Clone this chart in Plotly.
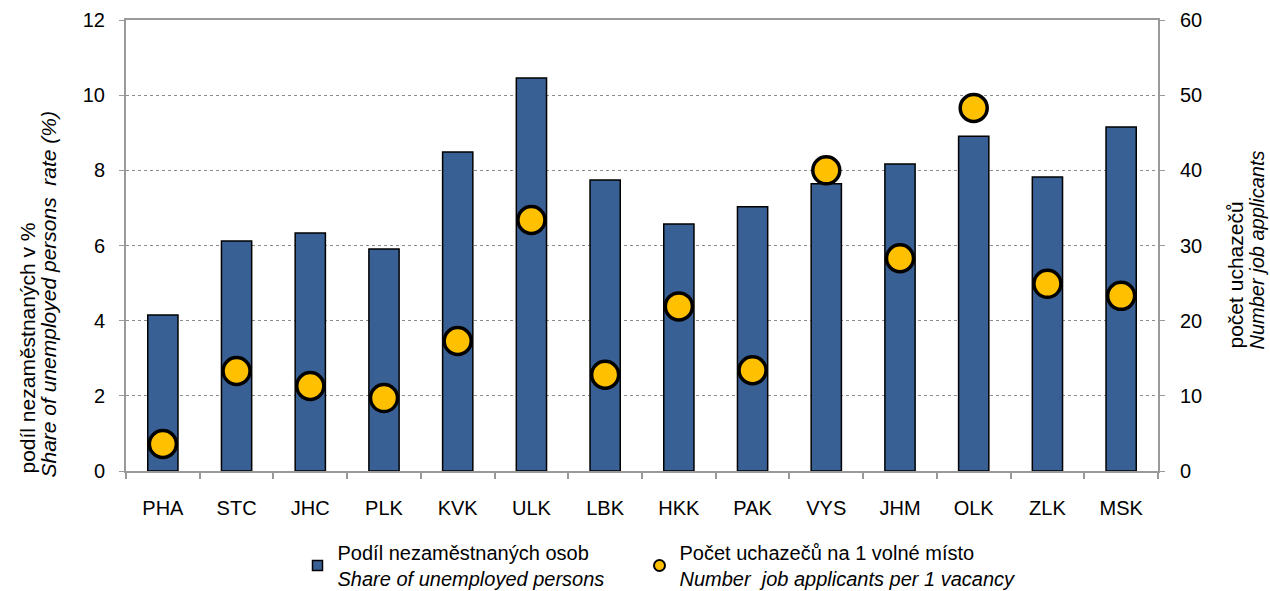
import plotly.graph_objects as go

regions = ["PHA", "STC", "JHC", "PLK", "KVK", "ULK", "LBK", "HKK", "PAK", "VYS", "JHM", "OLK", "ZLK", "MSK"]
unemployed_share = [4.15, 6.12, 6.33, 5.91, 8.49, 10.46, 7.74, 6.57, 7.03, 7.64, 8.17, 8.91, 7.82, 9.15]
applicants_per_vacancy = [3.6, 13.3, 11.3, 9.7, 17.3, 33.4, 12.8, 21.9, 13.4, 40.0, 28.3, 48.3, 24.9, 23.3]

legend_bar = "Podíl nezaměstnaných osob<br><i>Share of unemployed persons</i>"
legend_dot = "Počet uchazečů na 1 volné místo<br><i>Number  job applicants per 1 vacancy</i>"

FONT = "Liberation Sans, Arial, sans-serif"
BAR_COLOR = "#386094"
DOT_COLOR = "#FFC000"

W, H = 1270, 591
L, R, T, B = 126, 112, 20, 120
PW, PH = W - L - R, H - T - B

fig = go.Figure()
fig.add_trace(go.Bar(
    x=regions, y=unemployed_share, showlegend=False,
    marker=dict(color=BAR_COLOR, line=dict(color="black", width=1.5)),
    width=0.41, yaxis="y",
))
fig.add_trace(go.Scatter(
    x=regions, y=applicants_per_vacancy, showlegend=False,
    mode="markers",
    marker=dict(color=DOT_COLOR, size=27, line=dict(color="black", width=3.5)),
    yaxis="y2",
))
# legend-only entries (no data drawn)
fig.add_trace(go.Scatter(
    x=[None], y=[None], mode="markers", name=legend_bar, legend="legend",
    marker=dict(symbol="square", color=BAR_COLOR, size=10, line=dict(color="black", width=1.5)),
))
fig.add_trace(go.Scatter(
    x=[None], y=[None], mode="markers", name=legend_dot, legend="legend2",
    marker=dict(symbol="circle", color=DOT_COLOR, size=11, line=dict(color="black", width=2)),
))

AX = "#9a9a9a"
leg_common = dict(orientation="h", xanchor="left", yanchor="top", font=dict(size=20),
                  itemwidth=30, bgcolor="rgba(0,0,0,0)")
fig.update_layout(
    width=W, height=H,
    margin=dict(l=L, r=R, t=T, b=B, autoexpand=False),
    plot_bgcolor="white", paper_bgcolor="white",
    font=dict(family=FONT, size=20, color="black"),
    showlegend=True,
    legend=dict(x=(297.5 - L) / PW, y=-62 / PH, **leg_common),
    legend2=dict(x=(639.5 - L) / PW, y=-62 / PH, **leg_common),
    xaxis=dict(
        showline=True, linecolor=AX, linewidth=2, mirror=True,
        ticks="outside", tickson="boundaries", ticklen=6, tickcolor=AX, tickwidth=1.5,
        tickfont=dict(size=20), range=[-0.5, 13.5], ticklabelstandoff=18,
    ),
    yaxis=dict(
        range=[0, 12], dtick=2, showline=True, linecolor=AX, linewidth=2,
        ticks="outside", ticklen=5, tickcolor=AX,
        showgrid=True, gridcolor="#8c8c8c", griddash="dot", gridwidth=1,
        tickfont=dict(size=20), zeroline=False, ticklabelstandoff=10,
    ),
    yaxis2=dict(
        range=[0, 60], dtick=10, overlaying="y", side="right",
        showline=True, linecolor=AX, linewidth=2,
        ticks="outside", ticklen=5, tickcolor=AX,
        showgrid=False, tickfont=dict(size=20), zeroline=False, ticklabelstandoff=11,
    ),
)

def vtitle(text, xc, ybottom, size=20):
    fig.add_annotation(
        text=text, xref="paper", yref="paper", x=(xc - L) / PW, y=(H - B - ybottom) / PH,
        xanchor="center", yanchor="bottom", textangle=-90, showarrow=False,
        font=dict(size=size),
    )

# left axis title (two lines)
vtitle("podíl nezaměstnaných v %", 27, 476, 21)
vtitle("<i>Share of unemployed persons  rate (%)</i>", 48, 480, 21)
# right axis title (two lines)
vtitle("počet uchazečů", 1235, 351, 21)
vtitle("<i>Number job applicants</i>", 1256, 352, 20)

fig.write_html("out.html", config={"displayModeBar": False},
               post_script="document.body.style.margin='0';")
